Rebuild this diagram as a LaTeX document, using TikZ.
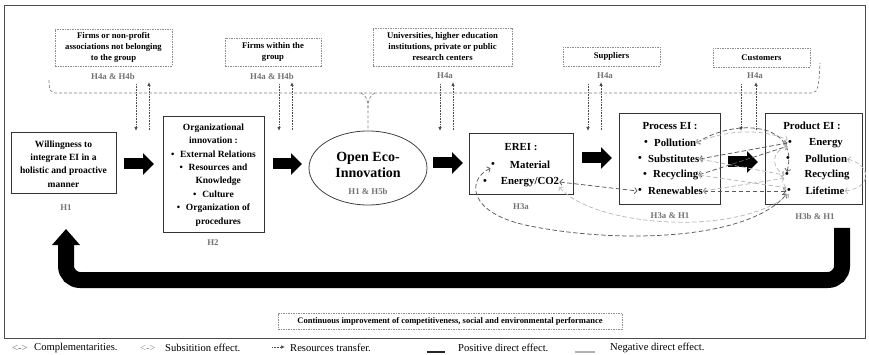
\documentclass[tikz,border=0pt]{standalone}
\usepackage{fontspec}
\setmainfont{Liberation Serif}
\usetikzlibrary{arrows.meta,shapes.geometric,calc}
\begin{document}
\begin{tikzpicture}[x=1pt,y=-1pt,
 mbox/.style={draw=black!80,line width=0.9pt,inner sep=0pt,align=center},
 tbox/.style={draw=black!45,dash pattern=on 1.5pt off 1pt,line width=0.6pt,inner sep=0pt,align=center,font=\bfseries\fontsize{8.7}{11}\selectfont},
 hlab/.style={text=black!55,font=\bfseries\fontsize{8.8}{10}\selectfont,inner sep=0pt},
 btxt/.style={font=\bfseries\fontsize{9.5}{13.4}\selectfont,align=center,inner sep=0pt},
 itm/.style={font=\bfseries\fontsize{10.8}{12}\selectfont,inner sep=0pt},
 bul/.style={font=\bfseries\fontsize{10.8}{12}\selectfont,inner sep=0.5pt},
 blk/.style={line width=11pt,-{Triangle[length=11pt,width=21pt]}},
 dotarr/.style={black!70,line width=0.8pt,dash pattern=on 0.8pt off 0.8pt,-{Latex[length=4pt,width=3.5pt]}},
 grp/.style={black!50,line width=0.7pt,dash pattern=on 3pt off 2pt},
 comp/.style={black!65,line width=0.75pt,dash pattern=on 4.5pt off 2.5pt,{Straight Barb[length=2.5pt,width=6pt]}-{Straight Barb[length=2.5pt,width=6pt]}},
 subs/.style={black!28,line width=0.75pt,dash pattern=on 4.5pt off 2.5pt,{Straight Barb[length=2.5pt,width=6pt]}-{Straight Barb[length=2.5pt,width=6pt]}},
 leg/.style={font=\fontsize{10.6}{12}\selectfont,inner sep=0pt,anchor=west}
]
\useasboundingbox (0,0) rectangle (869,355);
\node[draw=black!70,line width=0.8pt,minimum width=861pt,minimum height=333pt,inner sep=0pt] (frame) at (435,171.5) {};

% top source boxes
\node[tbox,minimum width=117pt,minimum height=37pt] (t1) at (113.5,47.5) {Firms or non-profit\\associations not belonging\\to the group};
\node[tbox,minimum width=96pt,minimum height=28pt] (t2) at (273,52) {Firms within the\\group};
\node[tbox,minimum width=139pt,minimum height=38pt] (t3) at (442.5,47) {Universities, higher education\\institutions, private or public\\research centers};
\node[tbox,minimum width=97pt,minimum height=19pt] (t4) at (611.5,56.5) {Suppliers};
\node[tbox,minimum width=97pt,minimum height=19pt] (t5) at (761.5,57.5) {Customers};
\node[hlab] (h41) at (113,76) {H4a \& H4b};
\node[hlab] (h42) at (272,76) {H4a \& H4b};
\node[hlab] (h43) at (445,76) {H4a};
\node[hlab] (h44) at (605,76) {H4a};
\node[hlab] (h45) at (755,76) {H4a};

% main boxes
\node[mbox,minimum width=105pt,minimum height=61pt] (wil) at (63.5,162.5) {};
\node[btxt] (wilT) at (63.5,164) {Willingness to\\integrate EI in a\\holistic and proactive\\manner};
\node[hlab] (hw) at (66,208) {H1};

\node[mbox,minimum width=101pt,minimum height=116pt] (org) at (213.5,174) {};
\node[btxt] (orgT) at (213.5,175) {Organizational\\innovation :\\\textbullet\hspace{0.6em}External Relations\\\textbullet\hspace{0.6em}Resources and\\\hspace*{1em}Knowledge\\\textbullet\hspace{0.6em}Culture\\\textbullet\hspace{0.6em}Organization of\\\hspace*{1em}procedures};
\node[hlab] (h2) at (213,243) {H2};

\node[draw=black!75,line width=0.8pt,ellipse,minimum width=118pt,minimum height=74pt,inner sep=0pt] (oei) at (368,168) {};
\node[font=\bfseries\fontsize{14}{16.5}\selectfont,align=center,inner sep=0pt] (oeiT) at (368,165) {Open Eco-\\Innovation};
\node[hlab] (h15) at (368,191) {H1 \& H5b};

\node[mbox,minimum width=104pt,minimum height=61pt] (erei) at (521,163.5) {};
\node[itm] (ereiT) at (521,147) {EREI :};
\node[bul] (bMat) at (493,165) {\textbullet};
\node[itm] (tMat) at (530,165) {Material};
\node[bul] (bEnC) at (485,182) {\textbullet};
\node[itm] (tEnC) at (530,182) {Energy/CO2};
\node[hlab] (h3a) at (521,207) {H3a};

\node[mbox,minimum width=101pt,minimum height=91pt] (proc) at (669.5,158.5) {};
\node[itm] (procT) at (670,126) {Process EI :};
\node[bul] (bPol) at (646,143) {\textbullet};
\node[itm,anchor=west] (tPol) at (654,143) {Pollution};
\node[bul] (bSub) at (640,159) {\textbullet};
\node[itm,anchor=west] (tSub) at (648,159) {Substitutes};
\node[bul] (bRec) at (645,175) {\textbullet};
\node[itm,anchor=west] (tRec) at (653,175) {Recycling};
\node[bul] (bRen) at (640,191) {\textbullet};
\node[itm,anchor=west] (tRen) at (648,191) {Renewables};
\node[hlab] (h3ah1) at (670,216) {H3a \& H1};

\node[mbox,minimum width=97pt,minimum height=91pt] (prod) at (813.5,158.5) {};
\node[itm] (prodT) at (812,126) {Product EI :};
\node[bul] (bEn) at (790,143) {\textbullet};
\node[itm] (tEn) at (826,143) {Energy};
\node[bul] (bPo2) at (788,159) {\textbullet};
\node[itm] (tPo2) at (826,159) {Pollution};
\node[bul] (bRc2) at (787,175) {\textbullet};
\node[itm] (tRc2) at (827,175) {Recycling};
\node[bul] (bLf) at (789,191) {\textbullet};
\node[itm] (tLf) at (825,191) {Lifetime};
\node[hlab] (h3b) at (815,216) {H3b \& H1};

% group boundary line
\coordinate (gL) at (49,80);
\coordinate (gR) at (820,63);
\coordinate (gM) at (368,108);
\draw[grp] (gL) .. controls (49,90) and (50,93) .. (57,93) -- (812,93) .. controls (818,93) and (819,85) .. (gR);
\draw[grp] (361,93) .. controls (366,95) and (368,100) .. (gM) -- (oei.north);
\draw[grp] (375,93) .. controls (370,95) and (368,100) .. (gM);

% resource transfer arrows
\foreach \i/\xd/\xu in {1/136/149,2/279/292,3/440/453,4/588/601,5/741/756}{
  \coordinate (dA\i) at (\xd,84);
  \coordinate (dB\i) at (\xd,131);
  \coordinate (uA\i) at (\xu,130);
  \coordinate (uB\i) at (\xu,82);
  \draw[dotarr] (dA\i) -- (dB\i);
  \draw[dotarr] (uA\i) -- (uB\i);
}

% block arrows
\coordinate (a1s) at (124,164); \coordinate (a1e) at (154,164);
\coordinate (a2s) at (273,164); \coordinate (a2e) at (302,164);
\coordinate (a3s) at (433,163); \coordinate (a3e) at (463,163);
\coordinate (a4s) at (582,158); \coordinate (a4e) at (612,158);
\coordinate (a5s) at (728,162); \coordinate (a5e) at (758,162);
\foreach \i in {1,...,5}{\draw[blk] (a\i s) -- (a\i e);}

% feedback arrow
\coordinate (fbS) at (842,228);
\coordinate (fbM) at (66,280);
\coordinate (fbE) at (66,229);
\draw[line width=16pt,rounded corners=14pt,-{Triangle[length=16pt,width=27pt]}] (fbS) -- (fbS |- fbM) -- (fbM) -- (fbE);

\node[tbox,font=\bfseries\fontsize{8.5}{10}\selectfont,minimum width=344pt,minimum height=16pt] (cont) at (450,321) {Continuous improvement of competitiveness, social and environmental performance};

% complementarity / substitution connectors
\draw[comp] (tEnC.east) -- (bRen.west);
\draw[comp] (bMat.south west) .. controls (466,180) and (468,214) .. (530,226) .. controls (620,244) and (748,240) .. (bLf.south west);
\draw[subs] (tEnC.south east) .. controls (592,226) and (735,238) .. (bLf.south);
\draw[comp] (tPol.east) .. controls (735,118) and (800,122) .. (bRc2.north);
\draw[comp] (tSub.east) -- (bEn.west);
\draw[comp] (tRec.east) -- (bEn.south west);
\draw[comp] (tRen.east) -- (bLf.west);
\draw[subs] (tPol.east) .. controls (725,130) and (760,128) .. (bEn.north west);
\draw[subs] (tSub.east) -- (bRc2.west);
\draw[subs] (tRec.east) -- (bLf.north west);
\draw[subs] (tRen.east) -- (bRc2.south west);
\draw[subs] (tPo2.east) .. controls (872,165) and (872,188) .. (tLf.east);
\draw[subs] (bEn.south west) .. controls (770,152) and (772,168) .. (bRc2.west);

% legend
\node[leg,text=black!60] (lg1s) at (12,348) {<->};
\node[leg] (lg1) at (34,348) {Complementarities.};
\node[leg,text=black!45] (lg2s) at (140,348) {<->};
\node[leg] (lg2) at (165,348) {Subsitition effect.};
\coordinate (lg3a) at (272,347); \coordinate (lg3b) at (285,347);
\draw[dotarr,line width=0.7pt] (lg3a) -- (lg3b);
\node[leg] (lg3) at (290,348) {Resources transfer.};
\coordinate (lg4a) at (427,352); \coordinate (lg4b) at (445,352);
\draw[line width=1.3pt,black!85] (lg4a) -- (lg4b);
\node[leg] (lg4) at (458,348) {Positive direct effect.};
\coordinate (lg5a) at (575,352); \coordinate (lg5b) at (595,352);
\draw[line width=1.3pt,black!30] (lg5a) -- (lg5b);
\node[leg] (lg5) at (610,348) {Negative direct effect.};
\end{tikzpicture}
\end{document}
